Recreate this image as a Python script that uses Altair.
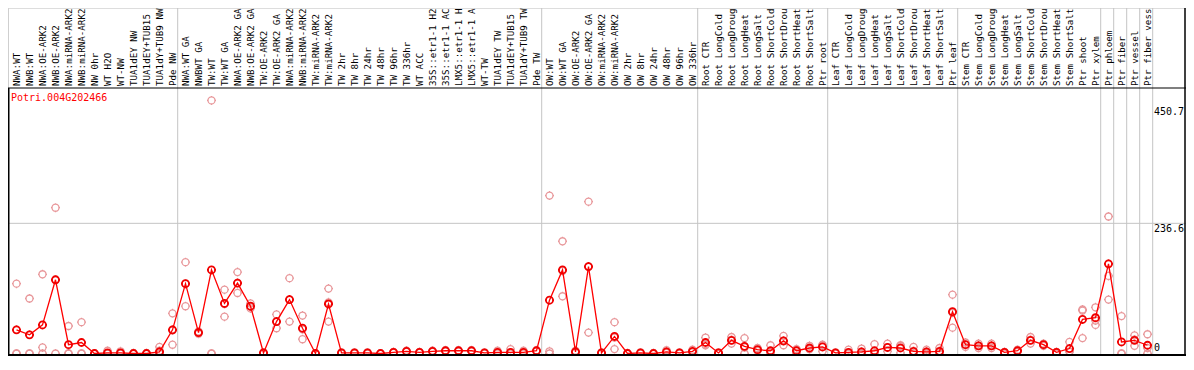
import altair as alt
import pandas as pd

categories = [
    "NWA:WT", "NWB:WT", "NWA:OE-ARK2", "NWB:OE-ARK2", "NWA:miRNA-ARK2", "NWB:miRNA-ARK2",
    "NW 0hr", "WT H2O", "WT-NW", "TUA1dEY NW", "TUA1dEY+TUB15", "TUA1dY+TUB9 NW", "Pde NW",
    "NWA:WT GA", "NWBWT GA", "TW:WT", "TW:WT GA", "NWA:OE-ARK2 GA", "NWB:OE-ARK2 GA",
    "TW:OE-ARK2", "TW:OE-ARK2 GA", "NWA:miRNA-ARK2", "NWB:miRNA-ARK2", "TW:miRNA-ARK2",
    "TW:miRNA-ARK2", "TW 2hr", "TW 8hr", "TW 24hr", "TW 48hr", "TW 96hr", "TW 336hr", "WT ACC",
    "35S::etr1-1 H2", "35S::etr1-1 AC", "LMX5::etr1-1 H", "LMX5::etr1-1 A", "WT-TW",
    "TUA1dEY TW", "TUA1dEY+TUB15", "TUA1dY+TUB9 TW", "Pde TW",
    "OW:WT", "OW:WT GA", "OW:OE-ARK2", "OW:OE-ARK2 GA", "OW:miRNA-ARK2", "OW:miRNA-ARK2",
    "OW 2hr", "OW 8hr", "OW 24hr", "OW 48hr", "OW 96hr", "OW 336hr",
    "Root CTR", "Root LongCold", "Root LongDroug", "Root LongHeat", "Root LongSalt",
    "Root ShortCold", "Root ShortDrou", "Root ShortHeat", "Root ShortSalt", "Ptr root",
    "Leaf CTR", "Leaf LongCold", "Leaf LongDroug", "Leaf LongHeat", "Leaf LongSalt",
    "Leaf ShortCold", "Leaf ShortDrou", "Leaf ShortHeat", "Leaf ShortSalt", "Ptr leaf",
    "Stem CTR", "Stem LongCold", "Stem LongDroug", "Stem LongHeat", "Stem LongSalt",
    "Stem ShortCold", "Stem ShortDrou", "Stem ShortHeat", "Stem ShortSalt", "Ptr shoot",
    "Ptr xylem", "Ptr phloem", "Ptr fiber", "Ptr vessel", "Ptr fiber vess",
]
group_sizes = [13, 28, 12, 10, 10, 11, 1, 1, 1, 1]

mean_vals = [43, 34, 52, 134, 16, 20, 0, 1, 1, 0, 0, 3, 43,
             127, 38, 152, 91, 128, 86, 1, 58, 98, 46, 0, 90, 1, 1, 1, 0, 2, 4, 2, 4, 5, 5, 5, 1, 2, 2, 2, 5,
             97, 152, 3, 158, 1, 31, 0, 1, 0, 3, 1, 4,
             20, 1, 24, 13, 7, 5, 23, 5, 10, 12,
             1, 2, 3, 5, 11, 10, 4, 3, 4, 76,
             16, 14, 14, 2, 5, 24, 16, 2, 9, 62, 65,
             163, 21, 24, 15]
rep_a = [127, 100, 144, 265, 50, 57, 0, 5, 4, 1, 1, 12, 73,
         166, 40, 460, 116, 148, 91, 0, 71, 137, 69, 0, 118, 0, 0, 0, 0, 3, 5, 3, 5, 6, 6, 6, 0, 5, 8, 5, 6,
         287, 204, 5, 276, 0, 57, 0, 2, 1, 6, 2, 7,
         29, 2, 30, 28, 10, 15, 32, 8, 14, 16,
         0, 7, 9, 17, 18, 14, 12, 7, 10, 107,
         20, 18, 18, 3, 7, 30, 18, 3, 21, 80, 84,
         249, 68, 33, 35]
rep_b = [0, 0, 11, 0, 0, 0, 0, 0, 0, 0, 0, 5, 16,
         86, 36, 0, 67, 110, 82, 0, 46, 58, 26, 0, 58, 2, 2, 2, 0, 1, 3, 1, 3, 4, 4, 4, 2, 0, 0, 0, 4,
         0, 104, 1, 38, 2, 8, 1, 0, 0, 1, 0, 2,
         17, 0, 24, 0, 5, 0, 15, 0, 8, 4,
         2, 0, 0, 0, 4, 1, 0, 0, 0, 47,
         12, 10, 10, 0, 3, 18, 14, 0, 3, 28, 52,
         141, 0, 14, 0]
rep_c = [0, 0, 0, 134, 0, 0, 0, 0, 0, 0, 0, 0, 42,
         127, 38, 0, 90, 128, 85, 2, 58, 98, 44, 0, 93, 1, 1, 1, 0, 2, 4, 2, 4, 5, 5, 5, 1, 2, 2, 2, 5,
         4, 150, 3, 158, 1, 29, 0, 1, 0, 2, 1, 3,
         15, 1, 18, 11, 6, 1, 22, 7, 8, 15,
         1, 0, 0, 0, 11, 15, 0, 1, 2, 74,
         16, 14, 14, 2, 5, 24, 16, 2, 4, 78, 60,
         98, 0, 25, 10]

gene_id = "Potri.004G202466"
tick_values = [450.7, 236.6, 0]
tick_labels = ["450.7", "236.6", "0"]

# ---- layout (pixels inside the view) ----
W, H = 1178, 348
TOP, ZERO, BOTTOM = 80, 345.5, 347
STEP, X0 = 13.0, 8.5
PXU = (ZERO - TOP) / (367.5 - 85) * (138.5 / 236.6)

xs = alt.Scale(domain=[-X0 / STEP, (W - X0) / STEP], nice=False, zero=False)
ys = alt.Scale(domain=[-(H - ZERO) / PXU, ZERO / PXU], nice=False, zero=False)
FONT = "DejaVu Sans Mono"
SHAPE = ("M -0.78 0 A 0.78 0.78 0 1 1 0.78 0 A 0.78 0.78 0 1 1 -0.78 0 "
         "M 0 -0.78 L 0 -1 M 0 0.78 L 0 1 M -0.78 0 L -1 0 M 0.78 0 L 1 0")

n = len(categories)
df = pd.DataFrame({"idx": list(range(n)), "label": categories, "mean": mean_vals})
reps = pd.DataFrame({"idx": list(range(n)) * 3, "val": rep_a + rep_b + rep_c})

# separators between groups
bounds = [-0.65]
c = 0
for g in group_sizes:
    c += g
    bounds.append(c - 1 + 0.4)
sep_df = pd.DataFrame({"pos": bounds})

one = pd.DataFrame({"k": [0]})

seps = alt.Chart(sep_df).mark_rule(color="#c4c4c4", strokeWidth=1).encode(
    x=alt.X("pos:Q", scale=xs, axis=None), y=alt.value(0), y2=alt.value(BOTTOM))

hl = alt.Chart(pd.DataFrame({"v": [tick_values[1]]})).mark_rule(color="#c4c4c4", strokeWidth=1).encode(
    y=alt.Y("v:Q", scale=ys, axis=None), x=alt.value(0), x2=alt.value(W))

frame_top = alt.Chart(one).mark_rule(color="black", strokeWidth=1.2).encode(
    x=alt.value(0), x2=alt.value(W), y=alt.value(TOP))
frame_bot = alt.Chart(one).mark_rule(color="black", strokeWidth=2).encode(
    x=alt.value(0), x2=alt.value(W), y=alt.value(BOTTOM))
frame_left = alt.Chart(one).mark_rule(color="black", strokeWidth=1.5).encode(
    x=alt.value(0.75), y=alt.value(TOP), y2=alt.value(BOTTOM))
frame_right = alt.Chart(one).mark_rule(color="black", strokeWidth=1.5).encode(
    x=alt.value(W - 1), y=alt.value(0), y2=alt.value(BOTTOM))

rep_pts = alt.Chart(reps).mark_point(shape=SHAPE, size=81, filled=False, color="#e8979a",
                                     strokeWidth=1.3, opacity=1).encode(
    x=alt.X("idx:Q", scale=xs, axis=None), y=alt.Y("val:Q", scale=ys, axis=None))

line = alt.Chart(df).mark_line(color="#ff0000", strokeWidth=1.3).encode(
    x=alt.X("idx:Q", scale=xs, axis=None), y=alt.Y("mean:Q", scale=ys, axis=None))

mean_pts = alt.Chart(df).mark_point(shape=SHAPE, size=81, filled=False, color="#f00000",
                                    strokeWidth=1.8, opacity=1).encode(
    x=alt.X("idx:Q", scale=xs, axis=None), y=alt.Y("mean:Q", scale=ys, axis=None))

labels = alt.Chart(df).mark_text(angle=270, align="left", baseline="middle", font=FONT,
                                 fontSize=9.2, color="black").encode(
    x=alt.X("idx:Q", scale=xs, axis=None), y=alt.value(TOP - 2), text="label:N")

gene = alt.Chart(pd.DataFrame({"t": [gene_id]})).mark_text(
    align="left", baseline="top", font=FONT, fontSize=10, color="#ff0000").encode(
    x=alt.value(3), y=alt.value(TOP + 5), text="t:N")

tick_df = pd.DataFrame({"v": tick_values, "t": tick_labels})
ticks_top = alt.Chart(tick_df).transform_filter("datum.v > 0").mark_text(
    align="left", baseline="top", font=FONT, fontSize=10, color="black", dy=1).encode(
    x=alt.value(1146), y=alt.Y("v:Q", scale=ys, axis=None), text="t:N")
ticks_zero = alt.Chart(tick_df).transform_filter("datum.v == 0").mark_text(
    align="left", baseline="bottom", font=FONT, fontSize=10, color="black", dy=-1).encode(
    x=alt.value(1146), y=alt.Y("v:Q", scale=ys, axis=None), text="t:N")

chart = alt.layer(
    seps, hl, rep_pts, line, mean_pts, frame_top, frame_bot, frame_left, frame_right,
    labels, gene, ticks_top, ticks_zero
).properties(
    width=W, height=H, padding=0, autosize=alt.AutoSizeParams(type="none")
).configure_view(stroke=None).configure(background="white")

chart.save("out.html", embed_options={"renderer": "svg", "actions": False})
